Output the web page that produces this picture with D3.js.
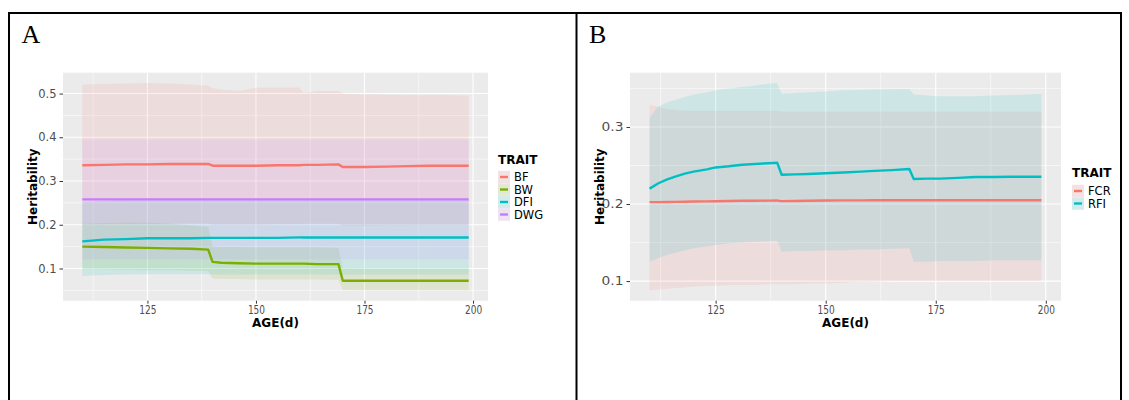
<!DOCTYPE html>
<html>
<head>
<meta charset="utf-8">
<script src="https://cdn.jsdelivr.net/npm/d3@7"></script>
<style>
  html, body { margin: 0; padding: 0; background: #fff; }
  svg { display: block; }
</style>
</head>
<body>
<svg id="fig" width="1129" height="400"></svg>
<script>
// ---------- Panel A: heritability of growth traits by age ----------
const ageA = [110,115,120,125,130,135,139,140,142,146,150,155,160,161,164,169,170,175,180,185,190,195,199];

const bfEst = [0.336,0.337,0.338,0.338,0.339,0.339,0.339,0.335,0.335,0.335,0.335,0.336,0.336,0.337,0.337,0.338,0.332,0.332,0.333,0.334,0.335,0.335,0.335];
const bfLow = [0.200,0.201,0.201,0.202,0.202,0.203,0.203,0.200,0.200,0.200,0.200,0.201,0.201,0.202,0.202,0.202,0.197,0.197,0.198,0.198,0.199,0.199,0.199];
const bfUp  = [0.521,0.522,0.523,0.524,0.523,0.521,0.518,0.512,0.509,0.506,0.513,0.514,0.514,0.501,0.506,0.506,0.500,0.498,0.497,0.496,0.496,0.496,0.495];

const bwEst = [0.150,0.149,0.148,0.147,0.146,0.145,0.143,0.115,0.113,0.112,0.111,0.111,0.111,0.111,0.110,0.110,0.072,0.072,0.072,0.072,0.072,0.072,0.072];
const bwLow = [0.099,0.098,0.097,0.096,0.096,0.095,0.094,0.077,0.076,0.076,0.075,0.075,0.075,0.075,0.075,0.074,0.051,0.050,0.050,0.050,0.050,0.050,0.050];
const bwUp  = [0.202,0.204,0.205,0.205,0.203,0.199,0.195,0.150,0.149,0.149,0.148,0.148,0.148,0.148,0.148,0.147,0.101,0.100,0.100,0.100,0.100,0.100,0.100];

const dfiEst = [0.162,0.166,0.167,0.169,0.169,0.169,0.170,0.170,0.170,0.170,0.170,0.170,0.171,0.171,0.171,0.171,0.171,0.171,0.171,0.171,0.171,0.171,0.171];
const dfiLow = [0.083,0.085,0.086,0.087,0.087,0.087,0.087,0.086,0.086,0.086,0.086,0.086,0.086,0.086,0.086,0.086,0.086,0.086,0.086,0.086,0.086,0.086,0.086];
const dfiUp  = [0.252,0.255,0.256,0.257,0.257,0.257,0.258,0.258,0.258,0.258,0.258,0.258,0.258,0.258,0.258,0.258,0.258,0.258,0.258,0.258,0.258,0.258,0.258];

const dwgEst = [0.258,0.258,0.258,0.258,0.258,0.258,0.258,0.258,0.258,0.258,0.258,0.258,0.258,0.258,0.258,0.258,0.258,0.258,0.258,0.258,0.258,0.258,0.258];
const dwgLow = [0.121,0.121,0.121,0.121,0.121,0.121,0.121,0.121,0.121,0.121,0.121,0.121,0.121,0.121,0.121,0.121,0.121,0.121,0.121,0.121,0.121,0.121,0.121];
const dwgUp  = [0.395,0.395,0.395,0.395,0.395,0.395,0.395,0.395,0.395,0.395,0.395,0.395,0.395,0.395,0.395,0.395,0.395,0.395,0.395,0.395,0.395,0.395,0.395];

const traitsA  = ["BF", "BW", "DFI", "DWG"];
const coloursA = ["#F8766D", "#7CAE00", "#00BFC4", "#C77CFF"];

// ---------- Panel B: heritability of feed efficiency traits by age ----------
const ageB = [110,112,114,116,118,120,123,125,128,131,134,137,139,140,143,146,150,154,158,161,165,169,170,173,176,180,184,188,192,196,199];

const fcrEst = [0.2025,0.2025,0.2027,0.2028,0.2030,0.2032,0.2035,0.2037,0.2040,0.2042,0.2043,0.2044,0.2045,0.2038,0.2040,0.2042,0.2045,0.2047,0.2048,0.2050,0.2050,0.2050,0.2050,0.2050,0.2050,0.2050,0.2050,0.2050,0.2050,0.2050,0.2050];
const fcrLow = [0.088,0.089,0.090,0.091,0.092,0.093,0.094,0.094,0.095,0.095,0.095,0.096,0.096,0.096,0.096,0.097,0.097,0.098,0.099,0.099,0.100,0.100,0.100,0.100,0.100,0.100,0.100,0.100,0.100,0.100,0.100];
const fcrUp  = [0.329,0.326,0.323,0.322,0.321,0.321,0.321,0.321,0.321,0.321,0.321,0.321,0.321,0.320,0.320,0.320,0.320,0.320,0.320,0.320,0.320,0.320,0.320,0.320,0.320,0.320,0.320,0.320,0.320,0.320,0.320];

const rfiEst = [0.220,0.227,0.232,0.236,0.2395,0.242,0.245,0.2475,0.249,0.251,0.252,0.253,0.2535,0.238,0.2385,0.239,0.240,0.241,0.242,0.243,0.244,0.2455,0.2325,0.233,0.233,0.234,0.235,0.235,0.2355,0.2355,0.2355];
const rfiLow = [0.125,0.130,0.134,0.137,0.140,0.1425,0.145,0.147,0.149,0.150,0.151,0.152,0.1525,0.138,0.139,0.139,0.140,0.140,0.141,0.141,0.142,0.1425,0.125,0.125,0.126,0.126,0.126,0.127,0.127,0.127,0.127];
const rfiUp  = [0.312,0.327,0.332,0.3355,0.339,0.342,0.345,0.3476,0.350,0.352,0.354,0.356,0.357,0.343,0.344,0.345,0.346,0.3476,0.348,0.3485,0.349,0.3494,0.342,0.341,0.340,0.340,0.340,0.341,0.3415,0.342,0.343];

const traitsB  = ["FCR", "RFI"];
const coloursB = ["#F8766D", "#00BFC4"];

// ---------- Axis breaks ----------
const ageTicks  = [125, 150, 175, 200];
const ageMinor  = [112.5, 137.5, 162.5, 187.5];
const hTicksA   = [0.1, 0.2, 0.3, 0.4, 0.5];
const hMinorA   = [0.05, 0.15, 0.25, 0.35, 0.45];
const hTicksB   = [0.1, 0.2, 0.3];
const hMinorB   = [0.15, 0.25, 0.35];

const svg = d3.select("#fig");

// ggplot-style 5% expansion of a continuous range
function expand(lo, hi) {
  const pad = (hi - lo) * 0.05;
  return [lo - pad, hi + pad];
}

function drawPanel(cfg) {
  const { left, right, top, bottom, ages, series, traits, colours,
          hTicks, hMinor, legendX, legendTitleY, legendFirstY, yLabelScale } = cfg;

  const allLow = d3.min(series, s => d3.min(s.low));
  const allUp  = d3.max(series, s => d3.max(s.up));
  const x = d3.scaleLinear().domain(expand(d3.min(ages), d3.max(ages))).range([left, right]);
  const y = d3.scaleLinear().domain(expand(allLow, allUp)).range([bottom, top]);

  const g = svg.append("g");

  // panel background
  g.append("rect")
    .attr("x", left).attr("y", top)
    .attr("width", right - left).attr("height", bottom - top)
    .attr("fill", "#EBEBEB");

  // minor grid
  g.append("g").selectAll("line.hmin").data(hMinor.filter(v => v > y.domain()[0] && v < y.domain()[1]))
    .join("line")
    .attr("x1", left).attr("x2", right)
    .attr("y1", d => y(d)).attr("y2", d => y(d))
    .attr("stroke", "#fff").attr("stroke-width", 0.55);
  g.append("g").selectAll("line.vmin").data(ageMinor)
    .join("line")
    .attr("y1", top).attr("y2", bottom)
    .attr("x1", d => x(d)).attr("x2", d => x(d))
    .attr("stroke", "#fff").attr("stroke-width", 0.55);
  // major grid
  g.append("g").selectAll("line.hmaj").data(hTicks)
    .join("line")
    .attr("x1", left).attr("x2", right)
    .attr("y1", d => y(d)).attr("y2", d => y(d))
    .attr("stroke", "#fff").attr("stroke-width", 1.1);
  g.append("g").selectAll("line.vmaj").data(ageTicks)
    .join("line")
    .attr("y1", top).attr("y2", bottom)
    .attr("x1", d => x(d)).attr("x2", d => x(d))
    .attr("stroke", "#fff").attr("stroke-width", 1.1);

  // confidence ribbons
  const area = d3.area()
    .x((d, i) => x(ages[i]))
    .y0(d => y(d[0]))
    .y1(d => y(d[1]));
  series.forEach((s, k) => {
    g.append("path")
      .datum(s.low.map((v, i) => [v, s.up[i]]))
      .attr("d", area)
      .attr("fill", colours[k])
      .attr("fill-opacity", 0.12);
  });

  // estimate lines
  const line = d3.line()
    .x((d, i) => x(ages[i]))
    .y(d => y(d));
  series.forEach((s, k) => {
    g.append("path")
      .datum(s.est)
      .attr("d", line)
      .attr("fill", "none")
      .attr("stroke", colours[k])
      .attr("stroke-width", 2.4)
      .attr("stroke-linejoin", "round");
  });

  // y axis
  const yAxis = g.append("g")
    .attr("transform", `translate(${left},0)`)
    .call(d3.axisLeft(y).tickValues(hTicks).tickFormat(d3.format(".1f")).tickSize(3.5).tickPadding(3));
  yAxis.select(".domain").remove();
  yAxis.selectAll(".tick line").attr("stroke", "#333").attr("stroke-width", 1);
  yAxis.selectAll(".tick text")
    .attr("fill", "#4D4D4D")
    .attr("font-family", "DejaVu Sans")
    .attr("font-size", 11.5)
    .attr("transform", `scale(${yLabelScale},1)`)
    .attr("x", -6.5 / yLabelScale);

  // x axis
  const xAxis = g.append("g")
    .attr("transform", `translate(0,${bottom})`)
    .call(d3.axisBottom(x).tickValues(ageTicks).tickFormat(d3.format("d")).tickSize(3).tickPadding(1));
  xAxis.select(".domain").remove();
  xAxis.selectAll(".tick line").attr("stroke", "#333").attr("stroke-width", 1);
  xAxis.selectAll(".tick text")
    .attr("fill", "#4D4D4D")
    .attr("font-family", "DejaVu Sans")
    .attr("font-size", 12.5)
    .attr("transform", "scale(0.72,1)");

  // axis titles
  g.append("text")
    .attr("x", (left + right) / 2).attr("y", 326.5)
    .attr("text-anchor", "middle")
    .attr("font-family", "DejaVu Sans").attr("font-weight", "bold")
    .attr("font-size", 12).attr("fill", "#000")
    .text("AGE(d)");
  g.append("text")
    .attr("transform", `translate(${left - 26.5},${(top + bottom) / 2}) rotate(-90)`)
    .attr("text-anchor", "middle")
    .attr("font-family", "DejaVu Sans").attr("font-weight", "bold")
    .attr("font-size", 12).attr("fill", "#000")
    .text("Heritability");

  // legend
  const leg = g.append("g");
  leg.append("text")
    .attr("x", legendX).attr("y", legendTitleY + 4.4)
    .attr("font-family", "DejaVu Sans").attr("font-weight", "bold")
    .attr("font-size", 12).attr("fill", "#000")
    .text("TRAIT");
  const step = 12.5;
  const items = leg.selectAll("g.key").data(traits).join("g")
    .attr("transform", (d, i) => `translate(${legendX},${legendFirstY + i * step})`);
  items.append("rect")
    .attr("x", 0).attr("y", -step / 2).attr("width", 12).attr("height", step)
    .attr("fill", "#F2F2F2");
  items.append("rect")
    .attr("x", 0).attr("y", -step / 2).attr("width", 12).attr("height", step)
    .attr("fill", (d, i) => colours[i]).attr("fill-opacity", 0.12);
  items.append("line")
    .attr("x1", 2).attr("x2", 10).attr("y1", 0).attr("y2", 0)
    .attr("stroke", (d, i) => colours[i]).attr("stroke-width", 2.4);
  items.append("text")
    .attr("x", 16).attr("y", 4.2)
    .attr("font-family", "DejaVu Sans").attr("font-size", 11.5).attr("fill", "#000")
    .text(d => d);
}

drawPanel({
  left: 63, right: 488, top: 72.7, bottom: 300.7,
  ages: ageA,
  series: [
    { est: bfEst,  low: bfLow,  up: bfUp },
    { est: bwEst,  low: bwLow,  up: bwUp },
    { est: dfiEst, low: dfiLow, up: dfiUp },
    { est: dwgEst, low: dwgLow, up: dwgUp }
  ],
  traits: traitsA, colours: coloursA,
  hTicks: hTicksA, hMinor: hMinorA,
  legendX: 498, legendTitleY: 160, legendFirstY: 177, yLabelScale: 1
});

drawPanel({
  left: 630, right: 1061, top: 72.7, bottom: 300.7,
  ages: ageB,
  series: [
    { est: fcrEst, low: fcrLow, up: fcrUp },
    { est: rfiEst, low: rfiLow, up: rfiUp }
  ],
  traits: traitsB, colours: coloursB,
  hTicks: hTicksB, hMinor: hMinorB,
  legendX: 1072, legendTitleY: 172.7, legendFirstY: 191, yLabelScale: 1.2
});

// panel letters
svg.append("text").attr("x", 21.5).attr("y", 43.3)
  .attr("font-family", "Liberation Serif").attr("font-size", 26).attr("fill", "#000").text("A");
svg.append("text").attr("x", 589).attr("y", 43.3)
  .attr("font-family", "Liberation Serif").attr("font-size", 26).attr("fill", "#000").text("B");

// surrounding table rules
const rule = { stroke: "#000", width: 2 };
svg.append("line").attr("x1", 8).attr("x2", 1122).attr("y1", 13).attr("y2", 13)
  .attr("stroke", rule.stroke).attr("stroke-width", rule.width);
[9, 576.5, 1121].forEach(xv => {
  svg.append("line").attr("x1", xv).attr("x2", xv).attr("y1", 12).attr("y2", 400)
    .attr("stroke", rule.stroke).attr("stroke-width", rule.width);
});
</script>
</body>
</html>
